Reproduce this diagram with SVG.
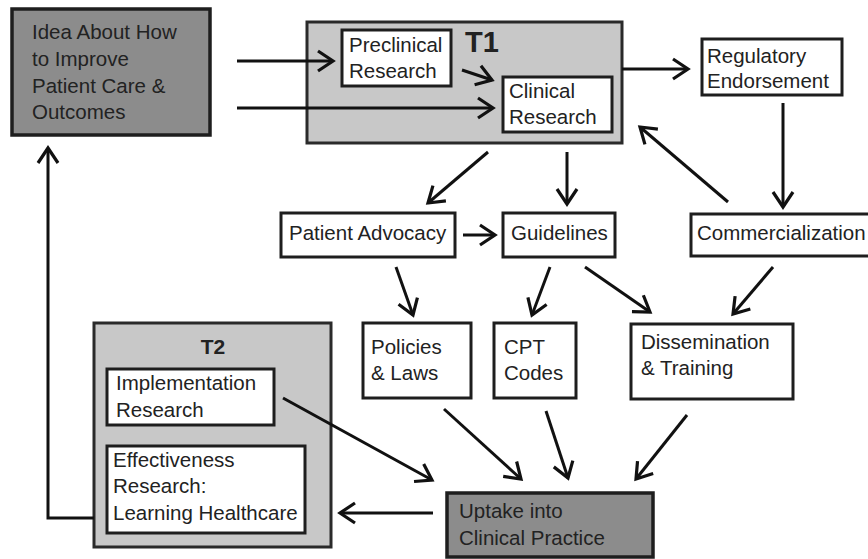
<svg xmlns="http://www.w3.org/2000/svg" width="868" height="559" viewBox="0 0 868 559">
<style>
.box{fill:#fff;stroke:#1e1e1e;stroke-width:3}
.dark{fill:#8c8c8c;stroke:#1e1e1e;stroke-width:3.5}
.light{fill:#c8c8c8;stroke:#2a2a2a;stroke-width:3}
text{font-family:"Liberation Sans",Arial,sans-serif;font-size:20.5px;fill:#222}
.lbl{font-weight:bold}
.c line,.c polyline{stroke:#111;stroke-width:3;fill:none;marker-end:url(#ah)}
</style>
<defs>
<marker id="ah" markerUnits="userSpaceOnUse" markerWidth="24" markerHeight="26" viewBox="0 0 24 26" refX="18" refY="13" orient="auto">
<path d="M3,3 L18,13 L3,23" fill="none" stroke="#111" stroke-width="3.2"/>
</marker>
</defs>
<rect width="868" height="559" fill="#fff"/>
<g id="idea"><rect class="dark" x="12" y="9" width="198" height="126"/>
<text x="32" y="39">Idea About How</text><text x="32" y="66">to Improve</text><text x="32" y="93">Patient Care &amp;</text><text x="32" y="119">Outcomes</text></g>
<g id="t1"><rect class="light" x="307" y="22" width="315" height="121"/><text class="lbl" x="465" y="52" style="font-size:29px">T1</text></g>
<g id="preclinical"><rect class="box" x="342" y="30" width="109" height="56"/><text x="349" y="52">Preclinical</text><text x="349" y="78">Research</text></g>
<g id="clinical"><rect class="box" x="503" y="77" width="109" height="55"/><text x="509" y="98">Clinical</text><text x="509" y="124">Research</text></g>
<g id="regulatory"><rect class="box" x="702" y="39" width="140" height="56"/><text x="707" y="63">Regulatory</text><text x="707" y="88">Endorsement</text></g>
<g id="commercialization"><rect class="box" x="691" y="214" width="200" height="42"/><text x="697" y="240">Commercialization</text></g>
<g id="advocacy"><rect class="box" x="281" y="213" width="174" height="44"/><text x="289" y="240">Patient Advocacy</text></g>
<g id="guidelines"><rect class="box" x="503" y="213" width="112" height="44"/><text x="511" y="240">Guidelines</text></g>
<g id="policies"><rect class="box" x="363" y="323" width="108" height="75"/><text x="371" y="354">Policies</text><text x="371" y="380">&amp; Laws</text></g>
<g id="cpt"><rect class="box" x="494" y="323" width="82" height="75"/><text x="504" y="354">CPT</text><text x="504" y="380">Codes</text></g>
<g id="dissemination"><rect class="box" x="631" y="324" width="162" height="75"/><text x="641" y="349">Dissemination</text><text x="641" y="375">&amp; Training</text></g>
<g id="uptake"><rect class="dark" x="447" y="493" width="206" height="64"/><text x="459" y="518">Uptake into</text><text x="459" y="545">Clinical Practice</text></g>
<g id="t2"><rect class="light" x="94" y="323" width="237" height="224"/><text class="lbl" x="213" y="354" text-anchor="middle" style="font-size:21px">T2</text></g>
<g id="implementation"><rect class="box" x="107" y="369" width="167" height="56"/><text x="116" y="390">Implementation</text><text x="116" y="417">Research</text></g>
<g id="effectiveness"><rect class="box" x="107" y="446" width="198" height="87"/><text x="113" y="467">Effectiveness</text><text x="113" y="493">Research:</text><text x="113" y="520">Learning Healthcare</text></g>
<g id="connectors" class="c">
<line x1="237" y1="61" x2="333" y2="61"/>
<line x1="237" y1="108" x2="493" y2="108"/>
<line x1="462" y1="70" x2="492" y2="80"/>
<line x1="622" y1="69" x2="688" y2="69"/>
<line x1="783" y1="103" x2="783" y2="207"/>
<line x1="728" y1="202" x2="640" y2="127"/>
<line x1="488" y1="152" x2="428" y2="203"/>
<line x1="567" y1="152" x2="567" y2="204"/>
<line x1="463" y1="235" x2="495" y2="235"/>
<line x1="396" y1="267" x2="413" y2="315"/>
<line x1="550" y1="267" x2="532" y2="315"/>
<line x1="585" y1="267" x2="650" y2="312"/>
<line x1="773" y1="267" x2="733" y2="314"/>
<line x1="444" y1="409" x2="521" y2="479"/>
<line x1="546" y1="411" x2="568" y2="478"/>
<line x1="687" y1="415" x2="636" y2="479"/>
<line x1="283" y1="398" x2="432" y2="480"/>
<line x1="433" y1="513" x2="340" y2="513"/>
<polyline points="94,518 48,518 48,148"/>
</g>
</svg>
